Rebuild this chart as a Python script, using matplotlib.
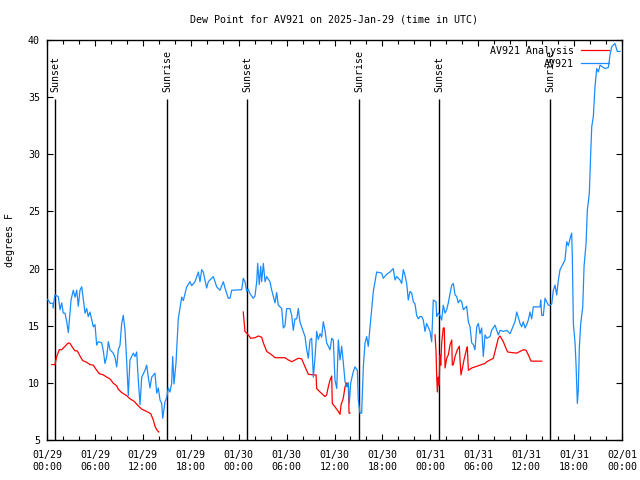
import numpy as np
import matplotlib
matplotlib.use("Agg")
import matplotlib.pyplot as plt
from matplotlib.ticker import MultipleLocator

nan = np.nan

# hours since 2025-01-29 00:00 UTC
blue_t = [0.00, 0.16, 0.38, 0.75, 0.79, 0.88, 1.00, 1.42, 1.63, 1.84, 2.04, 2.25, 2.47, 2.67, 2.88, 3.01,
          3.29, 3.51, 3.72, 3.92, 4.13, 4.35, 4.55, 4.76, 4.97, 5.17, 5.38, 5.60, 5.80, 6.01, 6.22, 6.42,
          6.85, 7.05, 7.26, 7.48, 7.68, 7.89, 8.30, 8.52, 8.73, 8.93, 9.14, 9.35, 9.55, 9.77, 9.98, 10.18,
          10.39, 10.81, 11.02, 11.23, 11.43, 11.65, 11.86, 12.27, 12.48, 12.68, 12.90, 13.11, 13.52, 13.74,
          13.94, 14.15, 14.36, 14.49, 14.78, 14.99, 15.19, 15.40, 15.61, 15.74, 15.90, 16.15, 16.44, 16.65,
          16.87, 17.07, 17.28, 17.49, 17.91, 18.12, 18.53, 18.95, 19.16, 19.37, 19.57, 19.99, 20.20, 20.82,
          21.25, 21.66, 22.08, 22.29, 22.70, 22.91, 23.13, 24.38, 24.58, 24.79, 25.01, 25.21, 25.42, 25.83,
          26.04, 26.26, 26.38, 26.58, 26.76, 26.88, 27.09, 27.30, 27.51, 27.92, 28.14, 28.55, 28.76, 28.96,
          29.39, 29.59, 29.80, 30.01, 30.43, 30.64, 30.84, 31.05, 31.27, 31.47, 31.68, 31.89, 32.31, 32.52,
          32.72, 32.93, 33.14, 33.35, 33.56, 33.77, 33.97, 34.19, 34.39, 34.60, 34.81, 35.02, 35.44, 35.65,
          35.85, 36.06, 36.28, 36.48, 36.69, 36.90, 37.10, 37.32, 37.53, 37.73, 37.86, 38.03, 38.36, 38.57,
          38.86, 38.98, 39.19, 39.40, 39.61, 39.82, 40.03, 40.23, 40.45, 40.66, 40.86, 41.07, 41.28, 41.91,
          42.11, 42.54, 42.95, 43.36, 43.58, 43.79, 44.20, 44.41, 44.62, 44.83, 45.04, 45.24, 45.45, 45.67,
          45.87, 46.08, 46.29, 46.49, 46.71, 46.92, 47.12, 47.33, 47.54, 47.96, 48.17, 48.37, 48.71, 48.80,
          49.00, 49.21, 49.42, 49.62, 49.84, 50.05, 50.25, 50.46, 50.68, 50.88, 51.09, 51.30, 51.50, 51.72,
          51.93, 52.13, 52.55, 52.76, 52.97, 53.18, 53.38, 53.59, 53.81, 54.01, 54.22, 54.43, 54.63, 54.85,
          55.06, 55.47, 55.68, 56.10, 56.51, 56.73, 57.14, 57.56, 57.98, 58.60, 58.82, 59.23, 59.44, 59.64,
          59.86, 60.07, 60.27, 60.48, 60.69, 60.90, 61.74, 61.82, 61.95, 62.15, 62.36, 62.78, 62.99, 63.20,
          63.40, 63.61, 63.82, 64.03, 64.24, 64.65, 64.86, 65.08, 65.28, 65.49, 65.70, 65.78, 65.91, 66.12,
          66.24, 66.41, 66.53, 66.66, 66.83, 67.08, 67.25, 67.50, 67.66, 67.91, 68.08, 68.21, 68.41, 68.62,
          68.83, 69.04, 69.25, 69.66, 69.87, 70.29, 70.50, 70.71, 71.12, 71.41, 71.75]
blue_v = [17.3, 17.25, 16.96, 16.96, 16.55, 17.2, 17.7, 17.54, 16.4, 17.0, 16.1, 16.1, 15.35, 14.4, 16.1, 17.25,
          18.1, 17.5, 18.1, 16.7, 18.1, 18.4, 17.25, 16.1, 16.5, 15.8, 16.2, 15.5, 14.9, 15.1, 13.3, 13.6,
          13.5, 12.8, 11.7, 12.3, 13.6, 12.9, 12.6, 12.2, 11.4, 12.9, 13.3, 15.2, 15.9, 14.6, 11.85, 8.9,
          12.0, 12.6, 12.3, 12.7, 10.25, 8.1, 10.5, 11.1, 11.55, 10.5, 9.55, 10.5, 10.85, 9.1,
          9.55, 8.5, 8.2, 6.9, 8.36, 8.7, 9.55, 9.2, 9.97, 12.3, 9.9, 11.7, 15.6, 16.5,
          17.5, 17.2, 17.8, 18.4, 18.85, 18.5, 18.85, 19.7, 18.85, 19.9, 19.7, 18.3, 18.85, 19.3,
          18.4, 18.1, 18.85, 18.3, 17.4, 17.4, 18.1, 18.15, 19.15, 18.85, 18.0, 18.2, 17.8, 17.4,
          17.6, 18.85, 20.45, 18.6, 20.2, 18.85, 20.45, 18.85, 19.3, 18.85, 18.1, 17.0, 17.9, 16.8,
          16.5, 14.8, 15.0, 16.5, 16.5, 15.9, 14.6, 15.6, 15.6, 16.5, 15.3, 14.9, 14.05, 12.9,
          12.15, 13.75, 13.9, 10.5, 12.2, 14.5, 13.8, 14.3, 14.0, 15.35, 14.6, 13.5, 12.9, 13.9,
          13.75, 10.25, 9.5, 13.75, 12.0, 13.2, 11.8, 10.1, 9.67, 10.0, 8.2, 10.0, 11.0, 11.4,
          11.1, 8.5, 7.35, 7.35, 11.4, 13.5, 14.05, 13.2, 14.9, 16.5, 18.0, 18.85, 19.7, 19.6,
          19.15, 19.5, 19.7, 20.0, 19.0, 19.3, 19.0, 18.7, 19.9, 19.4, 18.7, 17.25, 18.0, 17.85,
          17.1, 16.9, 15.9, 15.6, 15.8, 15.8, 15.5, 14.5, 15.2, 14.5, 13.6, 17.25, 17.1, 15.8,
          16.1, 15.9, 15.5, 16.8, 16.1, 16.4, 17.0, 17.8, 18.55, 18.7, 17.7, 17.55, 17.0, 17.25,
          17.1, 16.4, 16.7, 15.35, 14.9, 13.5, 13.35, 12.9, 14.9, 15.2, 14.3, 14.8, 12.3, 14.2,
          13.9, 14.05, 14.6, 15.05, 14.2, 14.6, 14.5, 14.6, 14.3, 15.35, 16.2, 15.2, 14.9, 15.35,
          14.8, 15.1, 15.5, 16.2, 15.6, 16.65, 16.65, 17.25, 15.9, 15.9, 17.4, 16.8, 16.8, 16.9,
          18.1, 18.55, 17.7, 19.0, 19.9, 20.45, 20.75, 22.35, 22.0, 22.6, 23.1, 21.0, 15.2, 13.5,
          11.7, 8.2, 9.4, 13.1, 15.2, 16.6, 20.2, 22.2, 25.1, 26.6, 30.1, 32.4, 33.3, 35.9,
          37.5, 37.2, 37.8, 37.6, 37.5, 37.6, 38.7, 39.4, 39.7, 39.0, 39.0]

red_t = [0.59, 1.00, 1.21, 1.54, 1.84, 2.25, 2.67, 2.88, 3.29, 3.51, 3.79, 4.13, 4.47, 4.97, 5.38, 5.80,
         6.22, 6.55, 7.05, 7.48, 7.89, 8.30, 8.73, 8.93, 9.35, 9.98, 10.39, 10.89, 11.31, 11.86, 12.48,
         12.99, 13.31, 13.52, 13.74, 13.99, nan,
         24.58, 24.67, 24.79, 25.08, 25.51, 26.05, 26.46, 26.88, 27.09, 27.51, 28.14, 28.55, 29.80, 30.22,
         30.64, 31.05, 31.47, 31.89, 32.31, 32.72, 33.35, 33.69, 33.77, 34.19, 34.81, 35.02, 35.23, 35.44,
         35.65, 35.72, 36.06, 36.48, 36.69, 36.82, 37.10, 37.32, 37.53, 37.60, 37.73, 37.82, 37.94, nan,
         48.59, 48.71, 48.80, 48.88, 49.00, 49.09, 49.21, 49.30, 49.42, 49.62, 49.75, 49.84, 50.05, 50.25,
         50.46, 50.68, 50.75, 50.88, 51.09, 51.38, 51.63, 51.72, 51.84, 52.05, 52.21, 52.55, 52.63, 52.76,
         53.18, 53.59, 54.22, 54.85, 55.06, 55.47, 55.89, 56.10, 56.51, 56.73, 57.14, 57.48, 57.69, 58.19,
         58.82, 59.23, 59.64, 59.98, 60.27, 60.61, 61.95]
red_v = [11.6, 11.6, 12.3, 12.9, 12.9, 13.2, 13.5, 13.45, 13.0, 12.8, 12.8, 12.35, 11.95, 11.8, 11.6, 11.55,
         11.1, 10.8, 10.7, 10.5, 10.35, 9.97, 9.73, 9.44, 9.15, 8.88, 8.6, 8.4, 8.07, 7.7, 7.5,
         7.3, 6.75, 6.2, 5.9, 5.7, nan,
         16.2, 15.4, 14.5, 14.3, 13.9, 13.95, 14.1, 14.0, 13.5, 12.75, 12.45, 12.2, 12.2, 12.0,
         11.85, 12.0, 12.15, 12.1, 11.4, 10.75, 10.7, 10.7, 9.5, 9.2, 8.8, 8.95, 9.67, 10.25,
         10.6, 8.2, 7.9, 7.5, 7.25, 8.07, 8.65, 9.67, 10.0, 9.67, 9.97, 7.35, 7.35, nan,
         14.2, 12.8, 10.5, 9.2, 10.5, 9.8, 12.45, 11.55, 13.5, 14.8, 14.8, 11.3, 12.15, 12.45,
         13.3, 13.75, 11.55, 11.6, 12.3, 12.9, 13.2, 12.0, 10.7, 11.4, 12.0, 13.0, 13.15, 11.1,
         11.3, 11.4, 11.55, 11.7, 11.85, 12.0, 12.15, 12.75, 13.9, 14.1, 13.6, 13.0, 12.7, 12.65,
         12.6, 12.75, 12.9, 12.85, 12.45, 11.9, 11.9]

sun_t = [1.04, 15.04, 25.07, 39.1, 49.1, 63.0]
sun_labels = ["Sunset", "Sunrise", "Sunset", "Sunrise", "Sunset", "Sunrise"]

xtick_hours = [0, 6, 12, 18, 24, 30, 36, 42, 48, 54, 60, 66, 72]
xtick_labels = ["01/29\n00:00", "01/29\n06:00", "01/29\n12:00", "01/29\n18:00",
                "01/30\n00:00", "01/30\n06:00", "01/30\n12:00", "01/30\n18:00",
                "01/31\n00:00", "01/31\n06:00", "01/31\n12:00", "01/31\n18:00",
                "02/01\n00:00"]
yticks = [5, 10, 15, 20, 25, 30, 35, 40]

FS = 7.2
plt.rcParams['font.family'] = ['DejaVu Sans Mono']
plt.rcParams['font.size'] = FS

fig = plt.figure(figsize=(6.4, 4.8), dpi=100)
ax = fig.add_axes([47/640, 40/480, 575/640, 400/480])

ax.plot(red_t, red_v, color='#ff0000', lw=0.9, label='AV921 Analysis', zorder=3)
ax.plot(blue_t, blue_v, color='#1a8cff', lw=0.9, label='AV921', zorder=3)

ax.vlines(sun_t, 5, 34.85, color='black', lw=1.0, zorder=2)
for t, lab in zip(sun_t, sun_labels):
    ax.text(t + 0.05, 35.45, lab, rotation=90, ha='center', va='bottom', fontsize=FS, zorder=4)

ax.set_xlim(0, 72)
ax.set_ylim(5, 40)
ax.set_xticks(xtick_hours)
ax.set_xticklabels(xtick_labels, linespacing=1.3)
ax.xaxis.set_minor_locator(MultipleLocator(2))
ax.set_yticks(yticks)
ax.set_yticklabels([str(v) for v in yticks])
ax.tick_params(which='both', direction='in', top=True, right=True, width=0.8, color='black')
ax.tick_params(which='major', length=4)
ax.tick_params(axis='x', which='major', pad=7)
ax.tick_params(axis='y', which='major', pad=5)
ax.tick_params(which='minor', length=3)
for s in ax.spines.values():
    s.set_linewidth(1.0)
    s.set_color('black')

leg = ax.legend(loc='upper right', bbox_to_anchor=(0.9774, 0.985), borderaxespad=0, borderpad=0,
                frameon=False, markerfirst=False, handlelength=2.8, handletextpad=0.7,
                labelspacing=0.3, fontsize=FS)

fig.text(334.5/640, 1 - 20/480, 'Dew Point for AV921 on 2025-Jan-29 (time in UTC)',
         ha='center', va='center', fontsize=FS)
fig.text(10/640, 240/480, 'degrees F', rotation=90, ha='center', va='center', fontsize=FS)

fig.savefig('out.png', dpi=100)
